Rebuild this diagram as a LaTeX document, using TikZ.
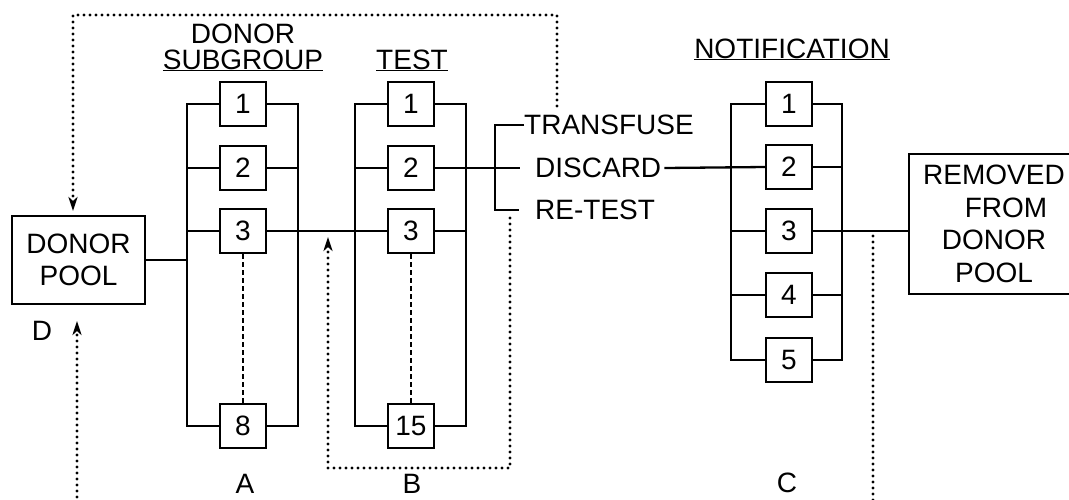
\documentclass[tikz,border=0pt]{standalone}
\usepackage{fontspec}
\setmainfont{Liberation Sans}
\usetikzlibrary{arrows.meta}
\begin{document}
\begin{tikzpicture}[x=1pt,y=-1pt,
  every node/.style={font=\fontsize{28}{32.5}\selectfont},
  box/.style={draw, line width=2pt, minimum width=46pt, minimum height=44pt, inner sep=0pt},
  bigbox/.style={draw, line width=2pt, align=center, inner sep=0pt},
  lbl/.style={inner sep=0pt},
  wire/.style={line width=2.3pt},
  dots/.style={line width=3.2pt, dash pattern=on 0pt off 6pt, line cap=round},
  thindash/.style={line width=1.2pt, dash pattern=on 5pt off 3pt},
  tip/.style={-{Stealth[length=14pt,width=9pt,inset=4pt]}}]
\useasboundingbox (0,0) rectangle (1069,499);
\fill[white] (0,0) rectangle (1069,499);

% donor pool
\node[bigbox, minimum width=133pt, minimum height=88pt] (pool) at (78.5,260) {DONOR\\POOL};
\node[lbl] (D) at (42,331) {D};

% titles
\node[lbl, anchor=base] (tA1) at (243,43) {DONOR};
\node[lbl, anchor=base] (tA2) at (243,69) {\underline{SUBGROUP}};
\node[lbl, anchor=base] (tB) at (412,69) {\underline{TEST}};
\node[lbl, anchor=base] (tC) at (792,58) {\underline{NOTIFICATION}};

% bracket coordinates
\coordinate (aL) at (187,0);
\coordinate (aR) at (298,0);
\coordinate (tL) at (355,0);
\coordinate (tR) at (466,0);
\coordinate (nL) at (731,0);
\coordinate (nR) at (842,0);

% subgroup boxes
\node[box] (a1) at (243,104) {1};
\node[box] (a2) at (243,168) {2};
\node[box] (a3) at (243,231) {3};
\node[box] (a8) at (243,426) {8};
% test boxes
\node[box] (t1) at (411,104) {1};
\node[box] (t2) at (411,168) {2};
\node[box] (t3) at (411,231) {3};
\node[box] (t15) at (411,426) {15};
% notification boxes
\node[box] (n1) at (789,104) {1};
\node[box] (n2) at (789,167) {2};
\node[box] (n3) at (789,231) {3};
\node[box] (n4) at (789,295) {4};
\node[box] (n5) at (789,360) {5};

% removed box
\node[bigbox, minimum width=170pt, minimum height=140pt] (rem) at (994,224)
  {REMOVED\\\hspace*{24pt}FROM\\DONOR\\POOL};

% outcome labels
\node[lbl, anchor=west] (transfuse) at (524,125) {TRANSFUSE};
\node[lbl, anchor=west] (discard) at (535,168) {DISCARD};
\node[lbl, anchor=west] (retest) at (535,210) {RE-TEST};

% bottom labels
\node[lbl] (A) at (245,484) {A};
\node[lbl] (B) at (412,484) {B};
\node[lbl] (C) at (787,483) {C};

% brackets A
\draw[wire] (a1.west) -- (a1.west -| aL) -- (a8.west -| aL) -- (a8.west);
\draw[wire] (a1.east) -- (a1.east -| aR) -- (a8.east -| aR) -- (a8.east);
\foreach \i in {2,3}{
  \draw[wire] (a\i.west) -- (a\i.west -| aL);
  \draw[wire] (a\i.east) -- (a\i.east -| aR);}
% brackets test
\draw[wire] (t1.west) -- (t1.west -| tL) -- (t15.west -| tL) -- (t15.west);
\draw[wire] (t1.east) -- (t1.east -| tR) -- (t15.east -| tR) -- (t15.east);
\foreach \i in {2,3}{
  \draw[wire] (t\i.west) -- (t\i.west -| tL);
  \draw[wire] (t\i.east) -- (t\i.east -| tR);}
% brackets notification
\draw[wire] (n1.west) -- (n1.west -| nL) -- (n5.west -| nL) -- (n5.west);
\draw[wire] (n1.east) -- (n1.east -| nR) -- (n5.east -| nR) -- (n5.east);
\foreach \i in {2,3,4}{
  \draw[wire] (n\i.west) -- (n\i.west -| nL);
  \draw[wire] (n\i.east) -- (n\i.east -| nR);}

% dashed continuations
\draw[thindash] (a3.south) -- (a8.north);
\draw[thindash] (t3.south) -- (t15.north);

% main flow
\draw[wire] (pool.east) -- (pool.east -| aL);
\draw[wire] (a3.east) -- (t3.west);
\coordinate (br) at (495,168);
\draw[wire] (t2.east) -- (br);
\draw[wire] (transfuse.west) -- (transfuse.west -| br) -- (retest.west -| br) -- ([xshift=-16pt]retest.west);
\draw[wire] (br) -- ([xshift=-15pt]discard.west);
\draw[wire] ([xshift=3pt]discard.east) -- (n2.west);
\draw[wire] (n3.east) -- (n3.east -| rem.west);

% dotted feedback paths
\coordinate (p1) at (557,106);
\coordinate (p2) at (73,15);
\draw[dots, tip, shorten >=4pt] (p1) |- (p2) -- (p2 |- pool.north);
\coordinate (q1) at (77,503);
\draw[dots, tip, shorten >=16pt] (q1) -- (q1 |- pool.south);
\coordinate (r1) at (510,218);
\coordinate (r2) at (328,468);
\coordinate (r3) at (328,237);
\draw[dots, tip] (r1) |- (r2) -- (r3);
\coordinate (c1) at (873,236);
\coordinate (c2) at (873,503);
\draw[dots] (c1) -- (c2);
\end{tikzpicture}
\end{document}
